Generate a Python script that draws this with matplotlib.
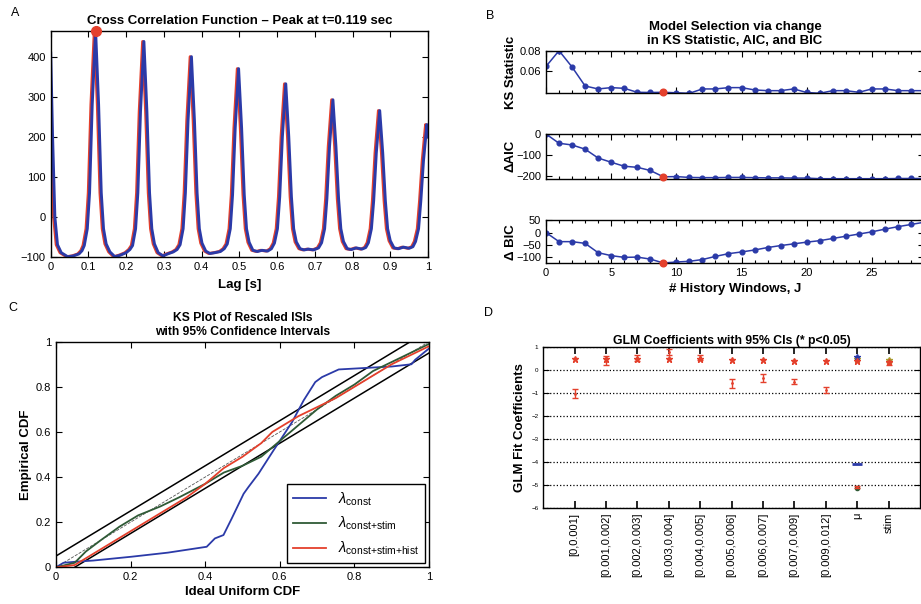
import numpy as np
import matplotlib
matplotlib.use('Agg')
import matplotlib.pyplot as plt
from matplotlib.ticker import MultipleLocator
from matplotlib.transforms import offset_copy

plt.rcParams['font.family'] = ['Liberation Sans', 'DejaVu Sans']
plt.rcParams['mathtext.fontset'] = 'custom'
plt.rcParams['mathtext.rm'] = 'Liberation Sans'
plt.rcParams['mathtext.it'] = 'Liberation Sans:italic'
plt.rcParams['axes.linewidth'] = 1.0

W, H = 921, 604

# ---- A: cross correlation
ccf_lag = [0.000, 0.005, 0.011, 0.018, 0.028, 0.045, 0.060, 0.075, 0.083,
           0.089, 0.097, 0.103, 0.110, 0.119, 0.127, 0.134, 0.140, 0.147, 0.157,
           0.170, 0.185, 0.200, 0.210,
           0.217, 0.225, 0.231, 0.238, 0.247, 0.255, 0.262, 0.268, 0.275, 0.285,
           0.298, 0.310, 0.325, 0.335,
           0.343, 0.351, 0.357, 0.364, 0.373, 0.381, 0.388, 0.394, 0.401, 0.411,
           0.422, 0.435, 0.450, 0.460,
           0.468, 0.476, 0.482, 0.489, 0.498, 0.506, 0.513, 0.519, 0.526, 0.536,
           0.548, 0.560, 0.575, 0.585,
           0.593, 0.601, 0.607, 0.614, 0.623, 0.631, 0.638, 0.644, 0.651, 0.661,
           0.672, 0.683, 0.697, 0.710,
           0.718, 0.726, 0.732, 0.739, 0.748, 0.756, 0.763, 0.769, 0.776, 0.786,
           0.797, 0.810, 0.825, 0.835,
           0.842, 0.850, 0.856, 0.863, 0.872, 0.880, 0.887, 0.893, 0.900, 0.910,
           0.922, 0.935, 0.950, 0.960,
           0.967, 0.975, 0.981, 0.988, 0.997, 1.000]
ccf_val = [410, 200, 0, -70, -90, -100, -98, -93, -85,
           -72, -30, 60, 280, 466, 280, 60, -30, -68, -88,
           -100, -96, -90, -82,
           -72, -30, 60, 263, 439, 263, 60, -30, -68, -90,
           -98, -93, -88, -82,
           -70, -30, 60, 240, 401, 240, 60, -30, -66, -86,
           -92, -90, -87, -80,
           -68, -30, 55, 222, 371, 222, 55, -30, -64, -84,
           -87, -84, -86, -80,
           -66, -30, 50, 200, 333, 200, 50, -30, -63, -80,
           -83, -81, -83, -78,
           -65, -30, 45, 176, 293, 176, 45, -30, -62, -80,
           -82, -78, -81, -77,
           -65, -30, 40, 160, 266, 160, 40, -30, -60, -78,
           -80, -76, -79, -75,
           -62, -30, 40, 140, 231, 200]
peak_lag, peak_val = 0.119, 466

# ---- B: model selection
ks_stat = [0.0645, 0.0800, 0.0639, 0.0452, 0.0423, 0.0436, 0.0429, 0.0390, 0.0388,
           0.0390, 0.0385, 0.0380, 0.0423, 0.0423, 0.0436, 0.0436, 0.0413, 0.0406,
           0.0406, 0.0423, 0.0388, 0.0380, 0.0406, 0.0406, 0.0390, 0.0423, 0.0423,
           0.0406, 0.0406, 0.0406]
d_aic = [0, -44, -52, -72, -114, -134, -153, -158, -173, -203, -202, -206, -207,
         -207, -206, -206, -207, -208, -208, -209, -209, -212, -212, -212, -212,
         -212, -212, -211, -211, -211]
d_bic = [0, -37, -37, -44, -82, -94, -101, -100, -108, -124, -120, -117, -110,
         -97, -86, -79, -71, -61, -53, -46, -39, -33, -24, -15, -6, 3, 14, 24, 33, 42]
best_j = 9

# ---- C: KS plot
ci_x = [0, 1]
ci_upper = [0.05, 1.05]
ci_lower = [-0.05, 0.95]
const_x = [0.0, 0.02, 0.055, 0.10, 0.203, 0.30, 0.404, 0.426, 0.449, 0.471, 0.503,
           0.516, 0.543, 0.583, 0.601, 0.633, 0.664, 0.695, 0.713, 0.758, 0.866,
           0.90, 0.953, 0.963, 1.0]
const_y = [0.0, 0.02, 0.025, 0.03, 0.047, 0.065, 0.091, 0.128, 0.143, 0.216, 0.326,
           0.356, 0.415, 0.518, 0.563, 0.644, 0.740, 0.821, 0.843, 0.877, 0.887,
           0.89, 0.90, 0.92, 0.97]
stim_x = [0, 0.05, 0.08, 0.12, 0.17, 0.22, 0.28, 0.33, 0.40, 0.45, 0.50, 0.55, 0.60,
          0.65, 0.70, 0.75, 0.80, 0.85, 0.90, 0.95, 1.0]
stim_y = [0, 0.02, 0.07, 0.12, 0.18, 0.23, 0.27, 0.31, 0.37, 0.42, 0.45, 0.49, 0.56,
          0.63, 0.70, 0.76, 0.81, 0.87, 0.91, 0.95, 0.99]
hist_x = [0, 0.05, 0.10, 0.15, 0.20, 0.25, 0.30, 0.35, 0.40, 0.45, 0.50, 0.55, 0.58,
          0.62, 0.65, 0.70, 0.75, 0.80, 0.85, 0.90, 0.95, 1.0]
hist_y = [0, 0.01, 0.06, 0.11, 0.16, 0.21, 0.26, 0.31, 0.37, 0.44, 0.49, 0.55, 0.60,
          0.64, 0.67, 0.71, 0.75, 0.80, 0.85, 0.90, 0.94, 0.98]

# ---- D: GLM coefficients
coef_labels = ['[0,0.001]', '[0.001,0.002]', '[0.002,0.003]', '[0.003,0.004]',
               '[0.004,0.005]', '[0.005,0.006]', '[0.006,0.007]', '[0.007,0.009]',
               '[0.009,0.012]', 'μ', 'stim']
hist_coef = [-1.03, 0.39, 0.54, 0.78, 0.57, -0.58, -0.33, -0.51, -0.87, -5.10, 0.28]
hist_lo = [-1.20, 0.22, 0.39, 0.65, 0.43, -0.77, -0.51, -0.62, -1.01, -5.15, 0.22]
hist_hi = [-0.84, 0.61, 0.64, 0.90, 0.65, -0.41, -0.16, -0.38, -0.72, -5.05, 0.34]
hist_star = [0.49, 0.46, 0.49, 0.46, 0.46, 0.43, 0.42, 0.39, 0.39, 0.40, 0.36]
stim_idx = [10, 11]
stim_coef = [-5.13, 0.38]
stim_star = [0.50, 0.45]
const_idx = [10]
const_coef = [-4.10]
const_star = [0.58]

blue = '#2b3aa8'
red = '#e4402c'
green = '#2f5a36'
olive = '#a8a030'


def style(ax, size=8):
    ax.tick_params(which='both', direction='in', top=True, right=True,
                   labelsize=size, width=0.8)
    ax.tick_params(which='major', length=4)
    ax.tick_params(which='minor', length=2.5)


def axrect(l, t, r, b):
    return [l / W, 1 - b / H, (r - l) / W, (b - t) / H]


fig = plt.figure(figsize=(W / 100, H / 100), dpi=100)

# A
ax = fig.add_axes(axrect(50.7, 30.7, 428, 256.7))
red_tr = offset_copy(ax.transData, fig=fig, x=-1.3, y=0, units='dots')
ax.plot(ccf_lag, ccf_val, color=red, lw=2.1, transform=red_tr)
ax.plot(ccf_lag, ccf_val, color=blue, lw=2.1)
ax.plot([peak_lag], [peak_val], 'o', color=red, ms=7, clip_on=False, zorder=5)
ax.set_xlim(0, 1)
ax.set_ylim(-100, 466)
ax.set_xticks(np.arange(0, 1.01, 0.1))
ax.set_xticklabels(['0', '0.1', '0.2', '0.3', '0.4', '0.5', '0.6', '0.7', '0.8', '0.9', '1'])
ax.set_yticks([-100, 0, 100, 200, 300, 400])
style(ax)
ax.set_title('Cross Correlation Function \u2013 Peak at t=0.119 sec',
             fontsize=9.5, fontweight='bold', pad=5)
ax.set_xlabel('Lag [s]', fontsize=9.5, fontweight='bold', labelpad=5)

# B
J = np.arange(len(ks_stat))
rows = [(ks_stat, 50.7, 93.3, (0.038, 0.080), [0.06, 0.08], ['0.06', '0.08'], 'KS Statistic'),
        (d_aic, 134, 178.7, (-212, 0), [-200, -100, 0], ['\u2212200', '\u2212100', '0'], '\u0394AIC'),
        (d_bic, 220.3, 263, (-124, 50), [-100, -50, 0, 50], ['\u2212100', '\u221250', '0', '50'], '\u0394 BIC')]
for i, (vals, t, b, yl, yt, ytl, lab) in enumerate(rows):
    ax = fig.add_axes(axrect(546, t, 924, b))
    ax.plot(J, vals, '-o', color=blue, lw=1.1, ms=3.4)
    ax.plot([best_j], [vals[best_j]], 'o', color=red, ms=4.8, clip_on=False, zorder=5)
    ax.set_xlim(0, 29)
    ax.set_ylim(*yl)
    ax.set_yticks(yt)
    ax.set_yticklabels(ytl)
    ax.xaxis.set_major_locator(MultipleLocator(5))
    ax.xaxis.set_minor_locator(MultipleLocator(1))
    style(ax)
    ax.set_ylabel(lab, fontsize=9.5, fontweight='bold')
    ax.yaxis.set_label_coords(-0.078, 0.5)
    if i < 2:
        ax.set_xticklabels([])
    else:
        ax.set_xlabel('# History Windows, J', fontsize=9.5, fontweight='bold', labelpad=4)
    if i == 0:
        ax.set_title('Model Selection via change\nin KS Statistic, AIC, and BIC',
                     fontsize=9.5, fontweight='bold', pad=5, linespacing=1.15)

# C
ax = fig.add_axes(axrect(56, 341.7, 429, 567.3))
ax.plot(ci_x, ci_x, color='#555555', lw=0.6, ls='--')
ax.plot(ci_x, ci_upper, color='black', lw=1.1)
ax.plot(ci_x, ci_lower, color='black', lw=1.1)
ax.plot(const_x, const_y, color=blue, lw=1.3, label=r'$\lambda_{\mathrm{const}}$')
ax.plot(stim_x, stim_y, color=green, lw=1.3, label=r'$\lambda_{\mathrm{const{+}stim}}$')
ax.plot(hist_x, hist_y, color=red, lw=1.3, label=r'$\lambda_{\mathrm{const{+}stim{+}hist}}$')
ax.set_xlim(0, 1)
ax.set_ylim(0, 1)
ax.set_xticks([0, 0.2, 0.4, 0.6, 0.8, 1])
ax.set_xticklabels(['0', '0.2', '0.4', '0.6', '0.8', '1'])
ax.set_yticks([0, 0.2, 0.4, 0.6, 0.8, 1])
ax.set_yticklabels(['0', '0.2', '0.4', '0.6', '0.8', '1'])
style(ax)
ax.set_title('KS Plot of Rescaled ISIs\nwith 95% Confidence Intervals',
             fontsize=8.7, fontweight='bold', pad=5, linespacing=1.15)
ax.set_xlabel('Ideal Uniform CDF', fontsize=9.5, fontweight='bold', labelpad=3)
ax.set_ylabel('Empirical CDF', fontsize=9.5, fontweight='bold', labelpad=3)
leg = ax.legend(loc='lower right', fontsize=10.5, handlelength=2.3, borderaxespad=0.3,
                fancybox=False, edgecolor='black', framealpha=1, labelspacing=0.5)
leg.get_frame().set_linewidth(1.0)

# D
ax = fig.add_axes(axrect(543.3, 347, 920, 508))
pos = np.arange(1, len(coef_labels) + 1)
hc = np.array(hist_coef)
ax.errorbar(pos, hc, yerr=[hc - np.array(hist_lo), np.array(hist_hi) - hc],
            fmt='.', color=red, ms=2, elinewidth=1, capsize=2.5, capthick=1, zorder=4)
ax.plot(pos, hist_star, '*', color=red, ms=5, zorder=5)
ax.plot(stim_idx, stim_coef, 'o', color=green, ms=3, zorder=3)
ax.plot(stim_idx, stim_star, '*', color=olive, ms=5, zorder=4)
ax.plot(const_idx, const_coef, '_', color=blue, ms=7, mew=2, zorder=3)
ax.plot(const_idx, const_star, '*', color=blue, ms=5, zorder=4)
ax.set_xlim(0, 12)
ax.set_ylim(-6, 1)
ax.set_xticks(pos)
ax.set_xticklabels(coef_labels, rotation=90)
ax.set_yticks(np.arange(-6, 2))
style(ax, size=4.5)
ax.tick_params(axis='x', labelsize=8, length=5, width=1.2)
ax.yaxis.grid(True, linestyle=':', color='black', linewidth=0.9)
ax.set_title('GLM Coefficients with 95% CIs (* p<0.05)', fontsize=8.8,
             fontweight='bold', pad=2)
ax.set_ylabel('GLM Fit Coefficients', fontsize=9.5, fontweight='bold', labelpad=4)

# panel letters
for letter, x, y in [('A', 15, 13), ('B', 490, 16), ('C', 13, 308), ('D', 488, 313)]:
    fig.text(x / W, 1 - y / H, letter, fontsize=9, ha='center', va='center')

fig.savefig('out.png', dpi=100)
